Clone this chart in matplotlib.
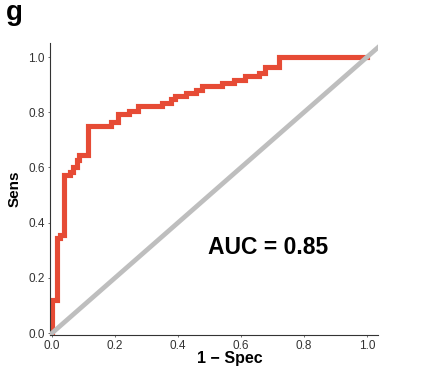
import matplotlib

matplotlib.use("Agg")
import matplotlib.pyplot as plt

# ROC corner points (1 - specificity, sensitivity)
fpr = [0.0, 0.0, 0.015, 0.025, 0.038, 0.057, 0.066, 0.078, 0.085, 0.115,
       0.187, 0.208, 0.245, 0.272, 0.35, 0.377, 0.392, 0.424, 0.456, 0.477,
       0.54, 0.577, 0.614, 0.656, 0.677, 0.72, 1.0]
tpr = [0.0, 0.12, 0.344, 0.355, 0.572, 0.584, 0.603, 0.627, 0.645, 0.752,
       0.766, 0.793, 0.805, 0.823, 0.834, 0.847, 0.859, 0.871, 0.88, 0.895,
       0.905, 0.917, 0.931, 0.943, 0.965, 1.0, 1.0]
ticks = [0.0, 0.2, 0.4, 0.6, 0.8, 1.0]
auc_text = "AUC = 0.85"

RED = "#E64B35"
GREY = "#BEBEBE"

plt.rcParams["font.family"] = ["Liberation Sans", "DejaVu Sans"]

W, H = 424, 376
fig = plt.figure(figsize=(W / 100, H / 100), dpi=100)
ax = fig.add_axes([49.5 / W, 1 - 335 / H, (378 - 49.5) / W, (335 - 43) / H])

ax.step(fpr, tpr, where="post", color=RED, lw=3.7, solid_joinstyle="miter", zorder=2)
ax.axline((0, 0), slope=1, color=GREY, lw=3.4, zorder=3)

ax.set_xlim(-0.008, 1.035)
ax.set_ylim(-0.007, 1.051)
ax.set_xticks(ticks)
ax.set_yticks(ticks)
ax.set_xticklabels([f"{t:.1f}" for t in ticks])
ax.set_yticklabels([f"{t:.1f}" for t in ticks])
ax.tick_params(length=1.5, width=0.5, color="#333333", labelsize=8.5,
               labelcolor="#333333", pad=2)

for side in ("top", "right"):
    ax.spines[side].set_visible(False)
for side in ("left", "bottom"):
    ax.spines[side].set_color("#333333")
    ax.spines[side].set_linewidth(0.8)

ax.text(0.687, 0.31, auc_text, fontsize=16.5, fontweight="bold",
        ha="center", va="center")

fig.text(230 / W, 1 - 358 / H, "1 \u2212 Spec", fontsize=11.5, fontweight="bold",
         ha="center", va="center")
fig.text(15 / W, 1 - 189 / H, "Sens", fontsize=11, fontweight="bold",
         rotation=90, ha="center", va="center")
fig.text(6 / W, 1 - 20 / H, "g", fontsize=20, fontweight="bold",
         ha="left", va="baseline")

fig.savefig("out.png", dpi=100)
